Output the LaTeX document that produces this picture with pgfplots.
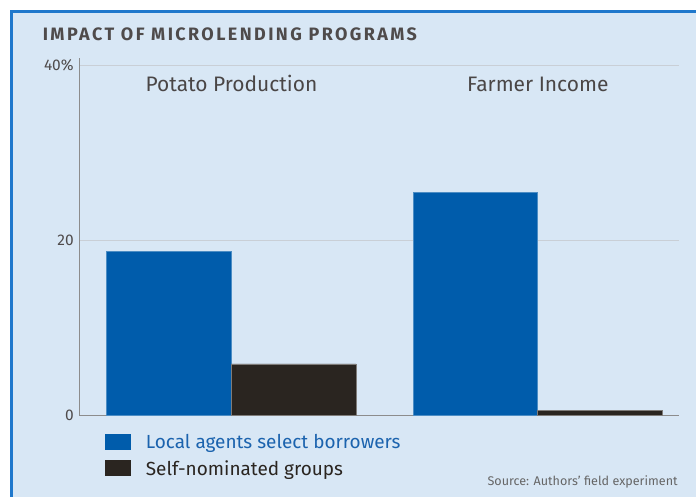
\documentclass[border=0pt]{standalone}
\usepackage{pgfplots}
\pgfplotsset{compat=1.18}
\usepackage{fontspec}
\setmainfont{Fira Sans}
\newfontfamily\titlefont[LetterSpace=13.5]{Fira Sans}
\definecolor{bg}{HTML}{D8E7F5}
\definecolor{panelblue}{HTML}{1F78CC}
\definecolor{barblue}{HTML}{005CAB}
\definecolor{bardark}{HTML}{2A2520}
\definecolor{titlegray}{HTML}{4F4B4B}
\definecolor{gridgray}{HTML}{C9CFD6}
\definecolor{axisgray}{HTML}{8C8C8C}
\definecolor{legblue}{HTML}{1B63AE}
\definecolor{labelgray}{HTML}{4A4646}
\definecolor{srcgray}{HTML}{666666}
\pgfplotstableread{
x y
152 18.8
459 25.5
}\localagents
\pgfplotstableread{
x y
152 5.9
459 0.6
}\selfnom
\begin{document}
\begin{tikzpicture}[x=1pt,y=1pt]
\fill[white] (0,0) rectangle (697,498);
\fill[bg] (10,0) rectangle (697,488);
\draw[panelblue, line width=3pt] (11.5,0) -- (11.5,486.5) -- (697,486.5);
\node[anchor=base west, font=\titlefont\fontsize{18}{20}\selectfont\bfseries, text=titlegray, inner sep=0pt] at (42.7,457.3) {IMPACT OF MICROLENDING PROGRAMS};
\node[anchor=base east, font=\fontsize{12.6}{14}\selectfont, text=srcgray, inner sep=0pt] at (679.3,11.3) {Source: Authors’ field experiment};
\begin{axis}[
  at={(80pt,81.5pt)}, anchor=south west,
  scale only axis, width=600pt, height=358.5pt,
  xmin=0, xmax=600, ymin=0, ymax=40.9,
  axis x line*=bottom, axis y line*=left,
  axis line style={-, draw=axisgray, line width=1pt},
  xtick=\empty,
  ytick={0,20,40}, yticklabels={0,20,40\%},
  major tick length=0pt,
  ymajorgrids, grid style={gridgray, line width=1pt},
  /pgf/number format/assume math mode=true,
  yticklabel style={anchor=east, inner sep=0pt, xshift=-6pt, font=\fontsize{15.5}{17}\selectfont, text=titlegray},
  ybar, bar width=125pt,
  legend style={at={(0.04167,-0.0497)}, anchor=north west, draw=none, fill=none, inner sep=0pt,
    row sep=10.7pt, column sep=15pt, font=\fontsize{19}{22}\selectfont,
    nodes={inner sep=0pt, text height=14pt, text depth=0pt}},
  legend cell align=left,
  legend image code/.code={\fill[#1, draw=none] (0pt,-8pt) rectangle (26pt,8pt);},
  clip=false,
]
\addplot[fill=barblue, draw=barblue!70!white, line width=0.8pt, bar shift=-62.5pt] table[x=x,y=y] {\localagents};
\addlegendentry{\textcolor{legblue}{Local agents select borrowers}}
\addplot[fill=bardark, draw=bardark!60!white, line width=0.8pt, bar shift=62.5pt] table[x=x,y=y] {\selfnom};
\addlegendentry{\textcolor{bardark}{Self-nominated groups}}
\node[anchor=base, font=\fontsize{21}{24}\selectfont, text=labelgray, inner sep=0pt] at (axis cs:152,37.06) {Potato Production};
\node[anchor=base, font=\fontsize{21}{24}\selectfont, text=labelgray, inner sep=0pt] at (axis cs:459,37.06) {Farmer Income};
\end{axis}
\end{tikzpicture}
\end{document}
